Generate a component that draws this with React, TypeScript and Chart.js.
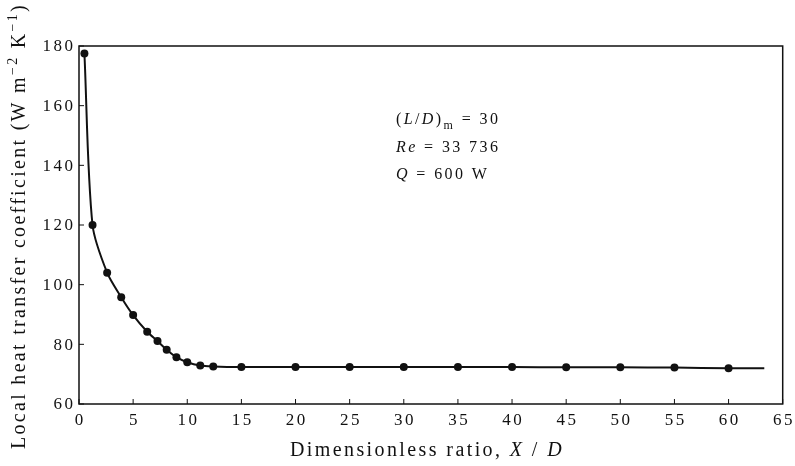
import React, { useEffect, useRef } from 'react';
import { Chart, registerables } from 'chart.js';

Chart.register(...registerables);

// ---- data ----
const xRatio = [0.5, 1.25, 2.6, 3.9, 5, 6.3, 7.25, 8.1, 9, 10, 11.2, 12.4, 15, 20, 25, 30, 35, 40, 45, 50, 55, 60];
const hCoeff = [177.5, 120, 104, 95.8, 89.8, 84.2, 81.1, 78.2, 75.7, 74, 72.9, 72.6, 72.4, 72.4, 72.4, 72.4, 72.4, 72.4, 72.3, 72.3, 72.2, 72];
const curveTailX = [63.3];
const curveTailY = [72];

const xMin = 0;
const xMax = 65;
const xStep = 5;
const yMin = 60;
const yMax = 180;
const yStep = 20;

const xTitleRuns = [
  { text: 'Dimensionless ratio, ', italic: false },
  { text: 'X', italic: true },
  { text: ' / ', italic: false },
  { text: 'D', italic: true },
];
const yTitleRuns = [
  { text: 'Local heat transfer coefficient (W m', italic: false },
  { text: '\u22122', italic: false, sup: true },
  { text: ' K', italic: false },
  { text: '\u22121', italic: false, sup: true },
  { text: ')', italic: false },
];
const noteLines = [
  [
    { text: '(', italic: false },
    { text: 'L', italic: true },
    { text: '/', italic: false },
    { text: 'D', italic: true },
    { text: ')', italic: false },
    { text: 'm', italic: false, sub: true },
    { text: ' = 30', italic: false },
  ],
  [
    { text: 'Re', italic: true },
    { text: ' = 33 736', italic: false },
  ],
  [
    { text: 'Q', italic: true },
    { text: ' = 600 W', italic: false },
  ],
];

const INK = '#111111';
const FAMILY = '"Liberation Serif", "Times New Roman", serif';

type Run = { text: string; italic?: boolean; sup?: boolean; sub?: boolean };

function fontStr(size: number, italic?: boolean) {
  return `${italic ? 'italic ' : ''}${size}px ${FAMILY}`;
}

function textWidth(ctx: CanvasRenderingContext2D, text: string, font: string, ls: number) {
  ctx.font = font;
  (ctx as any).letterSpacing = '0px';
  return ctx.measureText(text).width + ls * Math.max(0, text.length - 1);
}

function drawText(ctx: CanvasRenderingContext2D, text: string, font: string, ls: number, x: number, y: number) {
  ctx.font = font;
  (ctx as any).letterSpacing = `${ls}px`;
  ctx.fillText(text, x, y);
}

function drawRuns(ctx: CanvasRenderingContext2D, runs: Run[], size: number, ls: number, x: number, y: number) {
  let cx = x;
  for (const r of runs) {
    const s = r.sup || r.sub ? Math.round(size * 0.72) : size;
    const dy = r.sup ? -size * 0.38 : r.sub ? size * 0.3 : 0;
    const f = fontStr(s, r.italic);
    drawText(ctx, r.text, f, ls, cx, y + dy);
    cx += textWidth(ctx, r.text, f, ls) + ls;
  }
}

const overlayPlugin = {
  id: 'overlay',
  beforeDatasetsDraw(chart: any) {
    const { ctx, chartArea: a, scales } = chart;
    const xs = scales.x;
    const ys = scales.y;
    ctx.save();
    ctx.strokeStyle = INK;
    ctx.lineWidth = 1.5;
    ctx.strokeRect(a.left, a.top, a.right - a.left, a.bottom - a.top);
    ctx.lineWidth = 1;
    ctx.beginPath();
    for (const t of xs.ticks) {
      const px = xs.getPixelForValue(t.value);
      ctx.moveTo(px, a.bottom);
      ctx.lineTo(px, a.bottom - 5);
    }
    for (const t of ys.ticks) {
      const py = ys.getPixelForValue(t.value);
      ctx.moveTo(a.left, py);
      ctx.lineTo(a.left + 5, py);
    }
    ctx.stroke();
    ctx.restore();
  },
  afterDraw(chart: any) {
    const { ctx, chartArea: a, scales } = chart;
    const xs = scales.x;
    const ys = scales.y;
    ctx.save();
    ctx.fillStyle = INK;
    ctx.textAlign = 'left';

    // x tick labels
    const tickFont = fontStr(17);
    const tickLs = 2.5;
    ctx.textBaseline = 'alphabetic';
    for (const t of xs.ticks) {
      const label = String(t.value);
      const px = xs.getPixelForValue(t.value);
      const w = textWidth(ctx, label, tickFont, tickLs);
      drawText(ctx, label, tickFont, tickLs, px - w / 2, a.bottom + 21);
    }
    // y tick labels
    ctx.textBaseline = 'middle';
    for (const t of ys.ticks) {
      const label = String(t.value);
      const py = ys.getPixelForValue(t.value);
      const w = textWidth(ctx, label, tickFont, tickLs);
      drawText(ctx, label, tickFont, tickLs, a.left - 6 - w, py + 1);
    }

    // x title
    ctx.textBaseline = 'alphabetic';
    drawRuns(ctx, xTitleRuns, 20, 2.4, 290, a.bottom + 52);

    // y title (rotated)
    ctx.save();
    ctx.translate(25, 449);
    ctx.rotate(-Math.PI / 2);
    drawRuns(ctx, yTitleRuns, 20, 2.3, 0, 0);
    ctx.restore();

    // annotation
    const noteX = 396;
    const noteY = [124, 152, 179];
    noteLines.forEach((line, i) => drawRuns(ctx, line as Run[], 16, 2.4, noteX, noteY[i]));

    ctx.restore();
  },
};

export default function App() {
  const canvasRef = useRef<HTMLCanvasElement | null>(null);

  useEffect(() => {
    document.body.style.margin = '0';
    const canvas = canvasRef.current;
    if (!canvas) return;
    const points = xRatio.map((x, i) => ({ x, y: hCoeff[i] }));
    const curve = [...points, ...curveTailX.map((x, i) => ({ x, y: curveTailY[i] }))];

    const chart = new Chart(canvas, {
      type: 'scatter',
      data: {
        datasets: [
          {
            label: 'measured',
            data: points,
            showLine: false,
            pointRadius: 4,
            pointBackgroundColor: INK,
            pointBorderColor: INK,
            pointBorderWidth: 0,
          },
          {
            label: 'fit',
            data: curve,
            showLine: true,
            pointRadius: 0,
            borderColor: INK,
            borderWidth: 2,
            tension: 0.3,
            fill: false,
          } as any,
        ],
      },
      options: {
        animation: false,
        responsive: false,
        maintainAspectRatio: false,
        layout: { padding: { top: 46, right: 12.3, left: 0, bottom: 0 } },
        plugins: {
          legend: { display: false },
          tooltip: { enabled: false },
        },
        scales: {
          x: {
            type: 'linear',
            min: xMin,
            max: xMax,
            ticks: { stepSize: xStep, display: false },
            grid: { display: false, drawTicks: false },
            border: { display: false },
            afterFit: (s: any) => {
              s.height = 62;
            },
          },
          y: {
            type: 'linear',
            min: yMin,
            max: yMax,
            ticks: { stepSize: yStep, display: false },
            grid: { display: false, drawTicks: false },
            border: { display: false },
            afterFit: (s: any) => {
              s.width = 79;
            },
          },
        },
      } as any,
      plugins: [overlayPlugin],
    });
    return () => chart.destroy();
  }, []);

  return (
    <div style={{ position: 'fixed', left: 0, top: 0, width: 795, height: 466, background: '#fff' }}>
      <canvas ref={canvasRef} width={795} height={466} style={{ display: 'block' }} />
    </div>
  );
}
